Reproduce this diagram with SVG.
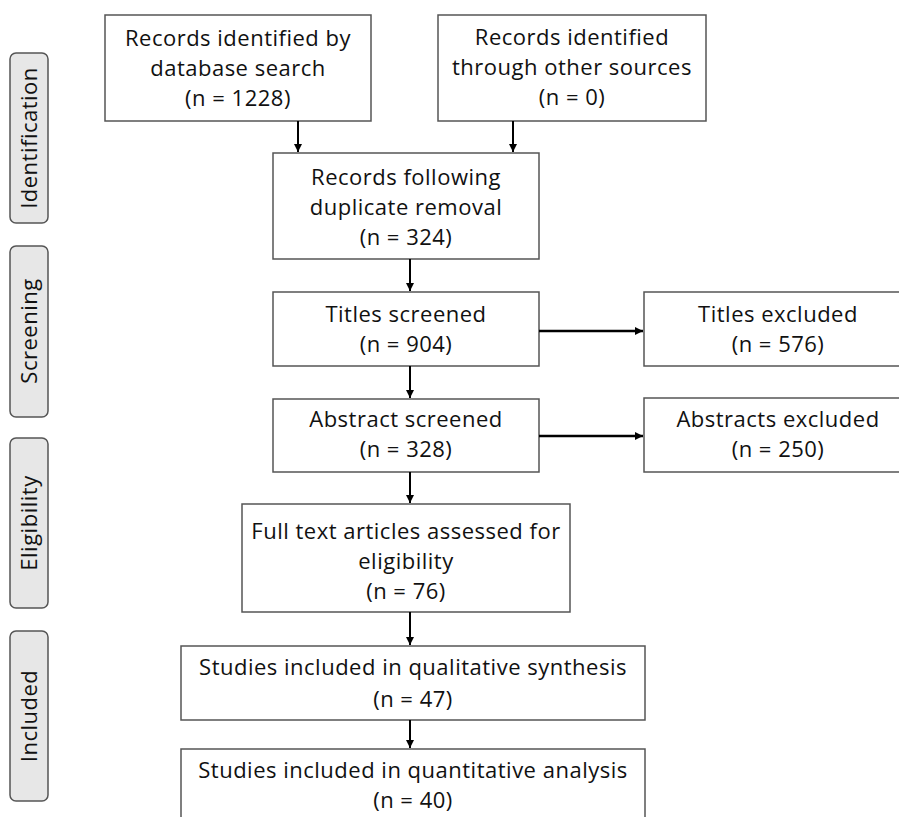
<svg xmlns="http://www.w3.org/2000/svg" width="899" height="817" viewBox="0 0 899 817">
<style>
.box{fill:#fff;stroke:#555;stroke-width:1.5}
.side{fill:#e7e7e7;stroke:#555;stroke-width:1.5}
text{font-family:"Open Sans","Liberation Sans",sans-serif;font-size:22px;letter-spacing:0.5px;fill:#111;text-anchor:middle}
.conn line{stroke:#000;stroke-width:2}
.conn line.h{stroke-width:2.5}
</style>
<defs>
<marker id="ah" viewBox="0 0 10 10" refX="10" refY="5" markerWidth="8" markerHeight="8" orient="auto" markerUnits="userSpaceOnUse">
<path d="M0,0 L10,5 L0,10 z" fill="#000"/>
</marker>
</defs>
<rect width="899" height="817" fill="#fff"/>
<g id="side-identification"><rect class="side" x="10" y="53" width="38" height="170" rx="6"/><text transform="translate(37,138) rotate(-90)">Identification</text></g>
<g id="side-screening"><rect class="side" x="10" y="246" width="38" height="171" rx="6"/><text transform="translate(37,331) rotate(-90)">Screening</text></g>
<g id="side-eligibility"><rect class="side" x="10" y="438" width="38" height="170" rx="6"/><text transform="translate(37,523) rotate(-90)">Eligibility</text></g>
<g id="side-included"><rect class="side" x="10" y="631" width="38" height="170" rx="6"/><text transform="translate(37,716) rotate(-90)">Included</text></g>

<g id="n-database"><rect class="box" x="105" y="15" width="266" height="106"/>
<text x="238" y="46">Records identified by</text><text x="238" y="76">database search</text><text x="238" y="106">(n = 1228)</text></g>
<g id="n-other"><rect class="box" x="438" y="15" width="268" height="106"/>
<text x="572" y="45">Records identified</text><text x="572" y="75">through other sources</text><text x="572" y="105">(n = 0)</text></g>
<g id="n-dedup"><rect class="box" x="273" y="153" width="266" height="106"/>
<text x="406" y="185">Records following</text><text x="406" y="215">duplicate removal</text><text x="406" y="245">(n = 324)</text></g>
<g id="n-titles"><rect class="box" x="273" y="292" width="266" height="74"/>
<text x="406" y="321.5">Titles screened</text><text x="406" y="352">(n = 904)</text></g>
<g id="n-titles-ex"><rect class="box" x="644" y="292" width="268" height="74"/>
<text x="778" y="321.5">Titles excluded</text><text x="778" y="352">(n = 576)</text></g>
<g id="n-abstract"><rect class="box" x="273" y="399" width="266" height="73"/>
<text x="406" y="426.5">Abstract screened</text><text x="406" y="457">(n = 328)</text></g>
<g id="n-abstract-ex"><rect class="box" x="644" y="398" width="268" height="74"/>
<text x="778" y="426.5">Abstracts excluded</text><text x="778" y="457">(n = 250)</text></g>
<g id="n-fulltext"><rect class="box" x="242" y="504" width="328" height="108"/>
<text x="406" y="539">Full text articles assessed for</text><text x="406" y="569">eligibility</text><text x="406" y="599">(n = 76)</text></g>
<g id="n-qual"><rect class="box" x="181" y="646" width="464" height="74"/>
<text x="413" y="675">Studies included in qualitative synthesis</text><text x="413" y="707">(n = 47)</text></g>
<g id="n-quant"><rect class="box" x="181" y="749" width="464" height="90"/>
<text x="413" y="778">Studies included in quantitative analysis</text><text x="413" y="808">(n = 40)</text></g>

<g id="connectors" class="conn">
<line x1="298" y1="121" x2="298" y2="152" marker-end="url(#ah)"/>
<line x1="513" y1="121" x2="513" y2="152" marker-end="url(#ah)"/>
<line x1="410" y1="259" x2="410" y2="291" marker-end="url(#ah)"/>
<line class="h" x1="539" y1="331" x2="643" y2="331" marker-end="url(#ah)"/>
<line x1="410" y1="366" x2="410" y2="398" marker-end="url(#ah)"/>
<line class="h" x1="539" y1="436" x2="643" y2="436" marker-end="url(#ah)"/>
<line x1="410" y1="472" x2="410" y2="503" marker-end="url(#ah)"/>
<line x1="410" y1="612" x2="410" y2="645" marker-end="url(#ah)"/>
<line x1="410" y1="720" x2="410" y2="748" marker-end="url(#ah)"/>
</g>
</svg>
